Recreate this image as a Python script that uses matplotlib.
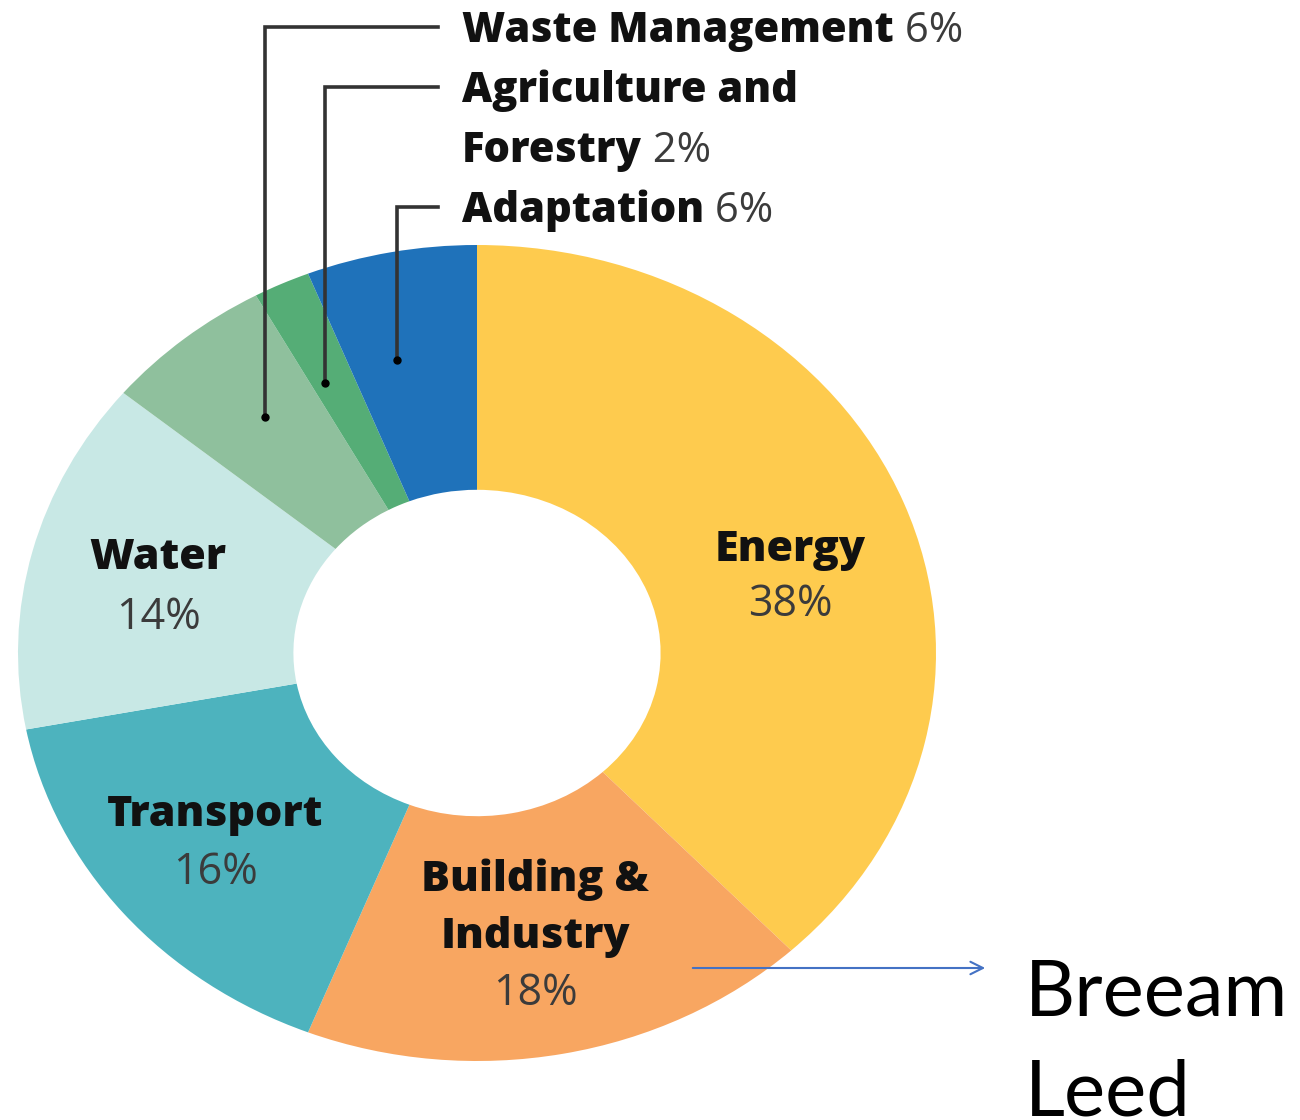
import numpy as np
import matplotlib.pyplot as plt

# data
sectors = ["Energy", "Building &\nIndustry", "Transport", "Water",
           "Waste Management", "Agriculture and\nForestry", "Adaptation"]
shares = [38, 18, 16, 14, 6, 2, 6]
colors = ["#FECB4E", "#F8A661", "#4DB3BE", "#C8E8E5", "#8FC09D", "#55AD76", "#1F72BA"]
side_note = ["Breeam", "Leed"]

W, H = 1300, 1120
CX, CY = 477, 653      # centre of donut in pixels
RX, RY = 459, 408      # outer radius in pixels (picture is stretched)

def px(x):
    return (x - CX) / RX

def py(y):
    return (CY - y) / RY

fig = plt.figure(figsize=(13, 11.2), dpi=100)
ax = fig.add_axes([0, 0, 1, 1])

wedges, _ = ax.pie(shares, colors=colors, startangle=90, counterclock=False,
                   radius=1, wedgeprops=dict(width=0.6, linewidth=0))
ax.set_aspect("auto")
ax.set_xlim(px(0), px(W))
ax.set_ylim(py(H), py(0))
ax.axis("off")

FONT = "Open Sans"
BOLD_COL = "#111111"
PCT_COL = "#3b3b3b"
FS = 31

# labels inside the ring: (index, x centre, y of first line, line step)
inside = [(0, 790, 550, 55), (1, 535, 880, 57), (2, 215, 815, 58), (3, 158, 558, 60)]
for i, x, y0, step in inside:
    lines = sectors[i].split("\n")
    for k, ln in enumerate(lines):
        ax.text(px(x), py(y0 + k * step), ln, ha="center", va="center",
                fontsize=FS, fontweight="heavy", family=FONT, color=BOLD_COL)
    ax.text(px(x), py(y0 + len(lines) * step), f"{shares[i]}%", ha="center",
            va="center", fontsize=FS, family=FONT, color=PCT_COL)

# small slices: leader lines to labels at the top
ends = np.cumsum(shares)
starts = ends - np.array(shares)
label_rows = {4: (27, 0.55), 5: (87, 0.32), 6: (207, 0.37)}
for i, (ly, frac) in label_rows.items():
    a = np.deg2rad(90 - 3.6 * (starts[i] + frac * shares[i]))
    dx, dy = 0.74 * np.cos(a), 0.74 * np.sin(a)
    ax.plot([dx, dx, px(438)], [dy, py(ly), py(ly)], color="#333333", lw=2.6,
            solid_joinstyle="miter", zorder=3)
    ax.plot(dx, dy, "o", color="black", ms=5, zorder=4)

def name_pct(x, y, name, pct):
    t = ax.text(px(x), py(y + 4), name, ha="left", va="center", fontsize=FS - 1,
                fontweight="heavy", family=FONT, color=BOLD_COL)
    if pct is None:
        return
    fig.canvas.draw()
    bb = t.get_window_extent()
    ax.annotate(f" {pct}%", xy=(bb.x1, bb.y0 + bb.height / 2), xycoords="figure pixels",
                ha="left", va="center", fontsize=FS - 1, family=FONT, color=PCT_COL)

name_pct(462, 27, sectors[4], shares[4])
agri = sectors[5].split("\n")
name_pct(462, 87, agri[0], None)
name_pct(462, 147, agri[1], shares[5])
name_pct(462, 207, sectors[6], shares[6])

# arrow to side note
ax.annotate("", xy=(px(988), py(968)), xytext=(px(690), py(968)),
            arrowprops=dict(arrowstyle="->,head_length=0.9,head_width=0.45",
                            color="#4472C4", lw=1.5))
for k, word in enumerate(side_note):
    ax.text(px(1025), py(1015 + k * 100), word, ha="left", va="baseline",
            fontsize=56, family="Lato", color="black")

fig.savefig("out.png", dpi=100)
